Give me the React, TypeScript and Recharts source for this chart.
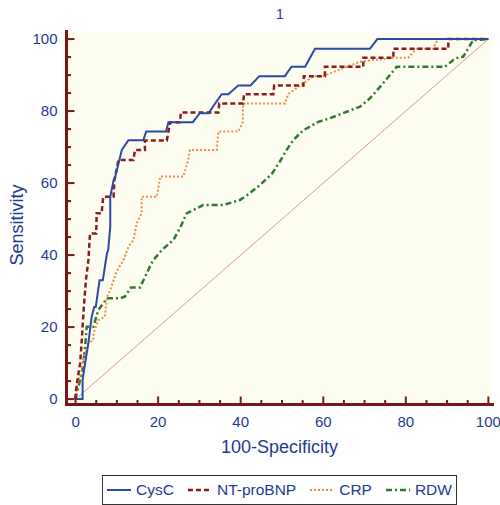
import React from "react";
import { CartesianGrid, Label, Line, LineChart, XAxis, YAxis } from "recharts";

// ROC curves, [100-specificity, sensitivity]
const cysc = [
  [0, 0], [1.7, 0], [1.7, 5.3], [2.3, 9.9], [2.7, 12.7], [3.1, 15.5], [3.5, 19.2],
  [3.9, 22.9], [4.5, 25.6], [4.9, 25.6], [5.8, 33], [6.6, 33], [7.1, 36.8], [7.6, 40.5],
  [7.9, 41.4], [8.4, 47.9], [8.4, 56.2], [9.2, 60.8], [9.6, 61.7], [11.2, 69.2],
  [12.8, 71.9], [16.4, 71.9], [17.1, 74.3], [21.9, 74.3], [22.5, 76.9], [28.4, 76.9],
  [30.1, 79.4], [32.2, 79.4], [33.8, 82.1], [35.4, 84.7], [37, 84.7], [39.4, 87.1],
  [42.4, 87.1], [44.5, 89.7], [50.7, 89.7], [52.3, 92.3], [55.6, 92.3], [58, 97.3],
  [71.3, 97.3], [73.1, 100], [100, 100],
];

const ntProBnp = [
  [0, 0], [0, 1.6], [0.7, 7.1], [1.1, 9.9], [1.5, 16.4], [2, 25.6], [2.5, 33],
  [3.1, 38.6], [3.5, 46], [5, 46], [5.1, 51.6], [6.3, 51.6], [6.7, 56.2], [9.2, 56.2],
  [9.4, 60.8], [10.4, 66.4], [14, 66.4], [14.4, 69.2], [16.8, 69.2], [16.8, 71.8],
  [22.1, 71.8], [22.9, 76.9], [25.3, 76.9], [25.5, 79.6], [34.6, 79.6], [34.8, 82.1],
  [40.6, 82.1], [40.8, 84.7], [47.9, 84.7], [48.1, 87.1], [55.2, 87.1], [55.3, 89.7],
  [60.4, 89.7], [60.4, 92.3], [69.7, 92.3], [69.7, 94.8], [77, 94.8], [77, 97.3],
  [90.3, 97.3], [90.3, 100], [100, 100],
];

const crp = [
  [0, 0], [0.3, 1.6], [0.3, 3.4], [1.5, 8.1], [1.9, 11.8], [2.3, 12.7], [3.1, 15.5],
  [4.3, 16.4], [4.3, 18.2], [5.5, 21.9], [7.1, 22.9], [7.6, 28.4], [8.4, 30.3],
  [10, 35.6], [11.6, 38.6], [12.8, 42.3], [14, 44.2], [14.8, 48.8], [16, 51.6],
  [16, 56.2], [19.7, 56.2], [20.5, 61.8], [26.1, 61.8], [27.3, 66.4], [27.7, 69.2],
  [34.2, 69.2], [34.6, 74.3], [39.4, 74.3], [40.5, 76.9], [40.6, 82.1], [50.7, 82.1],
  [51.5, 84.7], [54.4, 87.1], [57.6, 89.7], [60, 89.7], [65.7, 92.3], [68.9, 93.7],
  [77, 94.8], [80.6, 94.8], [82.6, 97.3], [86.6, 97.3], [87.8, 100], [100, 100],
];

const rdw = [
  [0, 0], [0.3, 1.6], [1.1, 5.3], [1.5, 7.1], [1.9, 9.9], [2.3, 14.5], [2.7, 20.1],
  [4.3, 20.1], [5.5, 24.7], [7.6, 28], [10.8, 28], [12, 28.5], [13.4, 31], [15.6, 31],
  [18, 36.8], [18.8, 38.6], [21, 41.5], [23.7, 44.2], [25.5, 48], [26.9, 51.6],
  [28.5, 52.5], [30.9, 53.9], [35.8, 53.9], [39.8, 55.3], [42, 57], [44.7, 59.5],
  [47.5, 62.5], [49.5, 66], [51, 69], [52.7, 71.9], [55.2, 74.7], [58.8, 77],
  [61.6, 78], [65.7, 79.8], [68.9, 81.2], [71.3, 83.5], [74.5, 87.7], [77.8, 92.3],
  [89.5, 92.3], [91.5, 94.2], [93.1, 95.1], [93.9, 95.1], [96.3, 99.7], [100, 100],
];

const diagonal = [
  [0, 0],
  [100, 100],
];

const ticks = [0, 5, 10, 15, 20, 25, 30, 35, 40, 45, 50, 55, 60, 65, 70, 75, 80, 85, 90, 95, 100];

const toPoints = (arr: number[][]) => arr.map(([x, y]) => ({ x, y }));

const FRAME = "#7a1616";
const TEXT = "#1f3a93";
const FONT = "'Liberation Sans', Arial, sans-serif";

const XTick = (props: any) => {
  const { x, y, payload } = props;
  const major = payload.value % 20 === 0;
  return (
    <g>
      <line x1={x} y1={y} x2={x} y2={y - (major ? 8 : 4.5)} stroke={FRAME} strokeWidth={2} />
      {major && (
        <text x={x} y={y + 22} textAnchor="middle" fill={TEXT} fontSize={15} fontFamily={FONT}>
          {payload.value}
        </text>
      )}
    </g>
  );
};

const YTick = (props: any) => {
  const { x, y, payload } = props;
  const major = payload.value % 20 === 0;
  return (
    <g>
      <line x1={x} y1={y} x2={x + (major ? 8 : 4.5)} y2={y} stroke={FRAME} strokeWidth={2} />
      {major && (
        <text x={x - 9} y={y + 5} textAnchor="end" fill={TEXT} fontSize={15} fontFamily={FONT}>
          {payload.value}
        </text>
      )}
    </g>
  );
};

const frameLine = { stroke: FRAME, strokeWidth: 3, strokeLinecap: "square" as const };
const xDomain = [-2.2, 101];
const yDomain = [-1.5, 102.1];

const legendItems = [
  { name: "CysC", color: "#2a4aa8", dash: undefined, width: 2 },
  { name: "NT-proBNP", color: "#8b1c1c", dash: "5 3", width: 2.5 },
  { name: "CRP", color: "#f28a48", dash: "2 2", width: 2 },
  { name: "RDW", color: "#2f7a2f", dash: "6 3 2 3", width: 2.5 },
];

export default function App() {
  return (
    <div style={{ position: "absolute", left: 0, top: 0, width: 500, height: 505, background: "#fff", fontFamily: FONT }}>
      <div style={{ position: "absolute", left: 276, top: 6, fontSize: 14, color: TEXT }}>1</div>
      <LineChart width={500} height={470} margin={{ top: 31.5, right: 7.5, left: 16.5, bottom: 0 }}>
        <CartesianGrid horizontal={false} vertical={false} fill="#fdfdf1" />
        <XAxis
          type="number"
          dataKey="x"
          domain={xDomain}
          allowDataOverflow
          ticks={ticks}
          interval={0}
          tick={<XTick />}
          tickLine={false}
          tickSize={0}
          tickMargin={0}
          axisLine={frameLine}
          height={65.5}
        >
          <Label
            content={(p: any) => (
              <text
                x={p.viewBox.x + p.viewBox.width / 2}
                y={p.viewBox.y + 48}
                textAnchor="middle"
                fill={TEXT}
                fontSize={18}
                fontFamily={FONT}
              >
                100-Specificity
              </text>
            )}
          />
        </XAxis>
        <XAxis xAxisId="top" orientation="top" type="number" domain={xDomain} allowDataOverflow tick={false} tickLine={false} axisLine={frameLine} height={0} />
        <YAxis
          type="number"
          domain={yDomain}
          allowDataOverflow
          ticks={ticks}
          interval={0}
          tick={<YTick />}
          tickLine={false}
          tickSize={0}
          tickMargin={0}
          axisLine={frameLine}
          width={50}
        >
          <Label
            content={(p: any) => {
              const cx = 17;
              const cy = p.viewBox.y + p.viewBox.height / 2 + 7;
              return (
                <text
                  x={cx}
                  y={cy}
                  transform={`rotate(-90 ${cx} ${cy})`}
                  textAnchor="middle"
                  dominantBaseline="central"
                  fill={TEXT}
                  fontSize={18}
                  fontFamily={FONT}
                >
                  Sensitivity
                </text>
              );
            }}
          />
        </YAxis>
        <YAxis yAxisId="right" orientation="right" type="number" domain={yDomain} allowDataOverflow tick={false} tickLine={false} axisLine={frameLine} width={0} />
        <Line data={toPoints(diagonal)} dataKey="y" type="linear" stroke="#d99a9a" strokeWidth={1} dot={false} isAnimationActive={false} />
        <Line data={toPoints(rdw)} dataKey="y" type="linear" stroke="#2f7a2f" strokeWidth={2.5} strokeDasharray="6 3 2 3" dot={false} isAnimationActive={false} />
        <Line data={toPoints(crp)} dataKey="y" type="linear" stroke="#f28a48" strokeWidth={2} strokeDasharray="2 2" dot={false} isAnimationActive={false} />
        <Line data={toPoints(ntProBnp)} dataKey="y" type="linear" stroke="#8b1c1c" strokeWidth={2.5} strokeDasharray="5 3" dot={false} isAnimationActive={false} />
        <Line data={toPoints(cysc)} dataKey="y" type="linear" stroke="#2a4aa8" strokeWidth={2} dot={false} isAnimationActive={false} />
      </LineChart>
      <div
        style={{
          position: "absolute",
          left: 102,
          top: 475,
          width: 353,
          height: 28,
          border: "1.5px solid #333",
          display: "flex",
          alignItems: "center",
          justifyContent: "center",
          gap: 14,
          fontSize: 15.5,
          color: TEXT,
        }}
      >
        {legendItems.map((item) => (
          <span key={item.name} style={{ display: "flex", alignItems: "center", gap: 5 }}>
            <svg width={24} height={6}>
              <line x1={0} y1={3} x2={24} y2={3} stroke={item.color} strokeWidth={item.width} strokeDasharray={item.dash} />
            </svg>
            {item.name}
          </span>
        ))}
      </div>
    </div>
  );
}
